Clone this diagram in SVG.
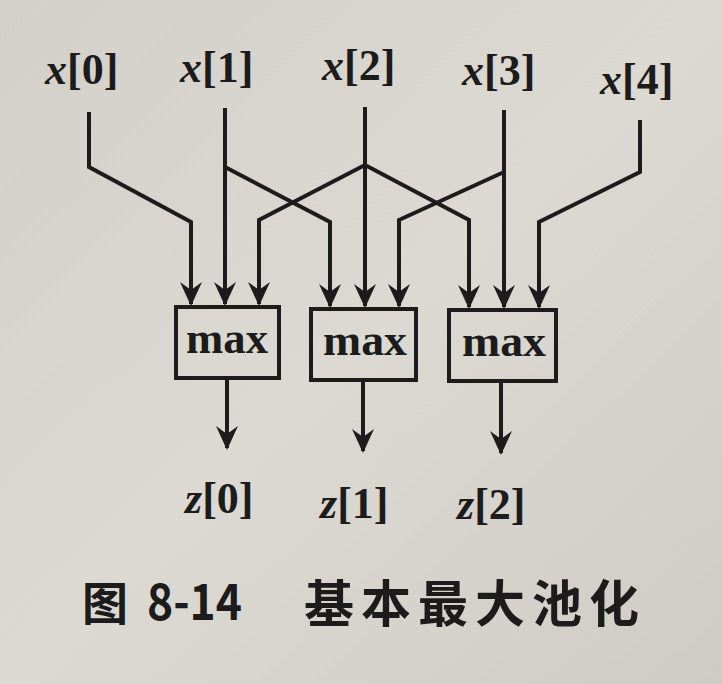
<svg xmlns="http://www.w3.org/2000/svg" width="722" height="684" viewBox="0 0 722 684">
<defs>
<style>
.ln{fill:none;stroke:#1c1c1c;stroke-width:4;stroke-linejoin:miter}
.box{fill:none;stroke:#1c1c1c;stroke-width:4}
.lab{font-family:"Liberation Serif","Times New Roman",serif;font-size:44px;font-weight:bold;fill:#1c1c1c}
.it{font-style:italic}
.mx{font-family:"Liberation Serif","Times New Roman",serif;font-size:44px;font-weight:bold;fill:#1c1c1c;text-anchor:middle}
.cap{font-family:"Noto Sans CJK SC","Noto Sans",sans-serif;font-weight:bold;fill:#1c1c1c}
</style>
<marker id="ah" markerUnits="userSpaceOnUse" markerWidth="26" markerHeight="26" viewBox="0 0 26 26" refX="22" refY="13" orient="auto">
<path d="M0,2 L24,13 L0,24 L8,13 z" fill="#1c1c1c"/>
</marker>
<linearGradient id="bg" x1="0" y1="0" x2="1" y2="1">
<stop offset="0" stop-color="#d3d0c9"/>
<stop offset="0.5" stop-color="#dcd9d2"/>
<stop offset="1" stop-color="#cfccc5"/>
</linearGradient>
</defs>
<rect width="722" height="684" fill="url(#bg)"/>

<g id="inputs">
<text id="x0" class="lab" x="45" y="84"><tspan class="it">x</tspan>[0]</text>
<text id="x1" class="lab" x="180" y="82"><tspan class="it">x</tspan>[1]</text>
<text id="x2" class="lab" x="322" y="80"><tspan class="it">x</tspan>[2]</text>
<text id="x3" class="lab" x="462" y="85"><tspan class="it">x</tspan>[3]</text>
<text id="x4" class="lab" x="600" y="94"><tspan class="it">x</tspan>[4]</text>
</g>

<g id="connectors">
<path class="ln" d="M89,112 V167 L191,222 V304" marker-end="url(#ah)"/>
<path class="ln" d="M225,108 V304" marker-end="url(#ah)"/>
<path class="ln" d="M225,167 L330,222 V306" marker-end="url(#ah)"/>
<path class="ln" d="M365,107 V306" marker-end="url(#ah)"/>
<path class="ln" d="M365,165 L259,220 V304" marker-end="url(#ah)"/>
<path class="ln" d="M365,165 L469,220 V307" marker-end="url(#ah)"/>
<path class="ln" d="M504,110 V307" marker-end="url(#ah)"/>
<path class="ln" d="M504,172 L399,220 V306" marker-end="url(#ah)"/>
<path class="ln" d="M640,120 V172 L539,222 V307" marker-end="url(#ah)"/>
<path class="ln" d="M227,378 V448" marker-end="url(#ah)"/>
<path class="ln" d="M363,380 V451" marker-end="url(#ah)"/>
<path class="ln" d="M501,381 V453" marker-end="url(#ah)"/>
</g>

<g id="max0">
<rect class="box" x="176" y="307" width="103" height="71"/>
<text class="mx" x="227" y="353" textLength="82" lengthAdjust="spacingAndGlyphs">max</text>
</g>
<g id="max1">
<rect class="box" x="311" y="309" width="105" height="71"/>
<text class="mx" x="365" y="355" textLength="84" lengthAdjust="spacingAndGlyphs">max</text>
</g>
<g id="max2">
<rect class="box" x="449" y="310" width="107" height="71"/>
<text class="mx" x="504" y="356" textLength="84" lengthAdjust="spacingAndGlyphs">max</text>
</g>

<g id="outputs">
<text id="z0" class="lab" x="185" y="513"><tspan class="it">z</tspan>[0]</text>
<text id="z1" class="lab" x="320" y="518"><tspan class="it">z</tspan>[1]</text>
<text id="z2" class="lab" x="457" y="519"><tspan class="it">z</tspan>[2]</text>
</g>

<g id="caption">
<text class="cap" x="82" y="620" font-size="46">图</text>
<text class="cap" x="147" y="620" font-size="50" textLength="95" lengthAdjust="spacingAndGlyphs">8-14</text>
<text class="cap" x="304" y="622" font-size="50" letter-spacing="7">基本最大池化</text>
</g>
</svg>
